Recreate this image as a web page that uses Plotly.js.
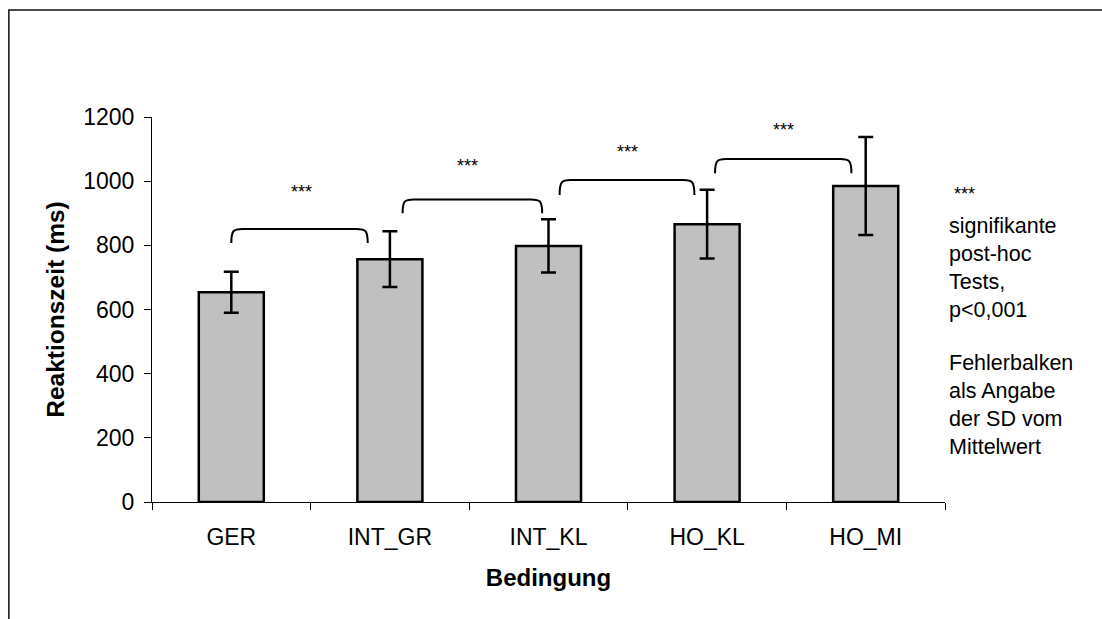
<!DOCTYPE html>
<html>
<head>
<meta charset="utf-8">
<script src="https://cdn.plot.ly/plotly-3.0.1.min.js"></script>
<style>html,body{margin:0;padding:0;background:#fff;}#chart{width:1102px;height:619px;}</style>
</head>
<body>
<div id="chart"></div>
<script>
// ---- data ----
const categories = ["GER", "INT_GR", "INT_KL", "HO_KL", "HO_MI"];
const meanRT = [654, 757, 798, 866, 985];
const sdRT = [64, 87, 83, 107, 153];

// significance brackets (category index positions, ms)
const bracketStart = [0.0, 1.08, 2.07, 3.05];
const bracketEnd = [0.86, 1.96, 2.92, 3.91];
const bracketTop = [851, 943, 1004, 1069];
const bracketFoot = [807, 900, 957, 1025];
const starX = [0.44, 1.49, 2.5, 3.48];
const starY = [966, 1047, 1091, 1160];
const starLabel = "***";

const yTickVals = [0, 200, 400, 600, 800, 1000, 1200];

const FONT = "Liberation Sans, Arial, sans-serif";

const trace = {
  type: "bar",
  x: categories,
  y: meanRT,
  width: 0.41,
  marker: {color: "#C0C0C0", line: {color: "#000000", width: 2.5}},
  error_y: {type: "data", array: sdRT, visible: true, color: "#000000", thickness: 2.5, width: 7.5},
  hoverinfo: "x+y"
};

const shapes = [];
for (let i = 0; i < bracketStart.length; i++) {
  const x0 = bracketStart[i], x1 = bracketEnd[i];
  const yt = bracketTop[i], yf = bracketFoot[i];
  const rx = 0.07;
  const path = `M ${x0},${yf} C ${x0},${yt - (yt - yf) * 0.1} ${x0 + rx * 0.2},${yt} ${x0 + rx},${yt} ` +
               `L ${x1 - rx},${yt} C ${x1 - rx * 0.2},${yt} ${x1},${yt - (yt - yf) * 0.1} ${x1},${yf}`;
  shapes.push({type: "path", xref: "x", yref: "y", path: path, line: {color: "#000", width: 2}});
}
// outer frame of the chart area
shapes.push({type: "rect", xref: "paper", yref: "paper", x0: -0.1805, x1: 1.3, y0: -0.4, y1: 1.278,
  line: {color: "#111", width: 1.5}, fillcolor: "rgba(0,0,0,0)", layer: "below"});

const annotations = [];
for (let i = 0; i < starX.length; i++) {
  annotations.push({x: starX[i], y: starY[i], xref: "x", yref: "y", text: starLabel, showarrow: false,
    font: {family: FONT, size: 18, color: "#000"}});
}
annotations.push({x: 1.009, y: 0.80, xref: "paper", yref: "paper", xanchor: "left", yanchor: "middle",
  text: "***", showarrow: false, font: {family: FONT, size: 18, color: "#000"}});
annotations.push({x: 1.003, y: 0.608, xref: "paper", yref: "paper", xanchor: "left", yanchor: "middle", align: "left",
  text: "signifikante<br>post-hoc<br>Tests,<br>p&lt;0,001", showarrow: false, font: {family: FONT, size: 21.5, color: "#000"}});
annotations.push({x: 1.003, y: 0.252, xref: "paper", yref: "paper", xanchor: "left", yanchor: "middle", align: "left",
  text: "Fehlerbalken<br>als Angabe<br>der SD vom<br>Mittelwert", showarrow: false, font: {family: FONT, size: 21.5, color: "#000"}});

const layout = {
  width: 1102, height: 619,
  margin: {l: 152, r: 157, t: 117, b: 117, pad: 0},
  paper_bgcolor: "#fff", plot_bgcolor: "#fff",
  showlegend: false,
  font: {family: FONT, size: 23, color: "#000"},
  xaxis: {
    type: "category",
    showline: true, linecolor: "#000", linewidth: 1,
    ticks: "outside", tickson: "boundaries", ticklen: 7, tickcolor: "#000", tickwidth: 1,
    tickfont: {family: FONT, size: 23}, ticklabelstandoff: 14,
    title: {text: "<b>Bedingung</b>", font: {family: FONT, size: 24}, standoff: 20},
    showgrid: false, zeroline: false, automargin: false
  },
  yaxis: {
    range: [0, 1200], tickvals: yTickVals,
    showline: true, linecolor: "#000", linewidth: 1,
    ticks: "outside", ticklen: 7, tickcolor: "#000", tickwidth: 1,
    tickfont: {family: FONT, size: 23}, ticklabelstandoff: 5,
    title: {text: "<b>Reaktionszeit (ms)</b>", font: {family: FONT, size: 24.5}, standoff: 11},
    showgrid: false, zeroline: false, automargin: false
  },
  shapes: shapes,
  annotations: annotations,
  bargap: 0.59
};

Plotly.newPlot("chart", [trace], layout, {displayModeBar: false, staticPlot: true});
</script>
</body>
</html>
